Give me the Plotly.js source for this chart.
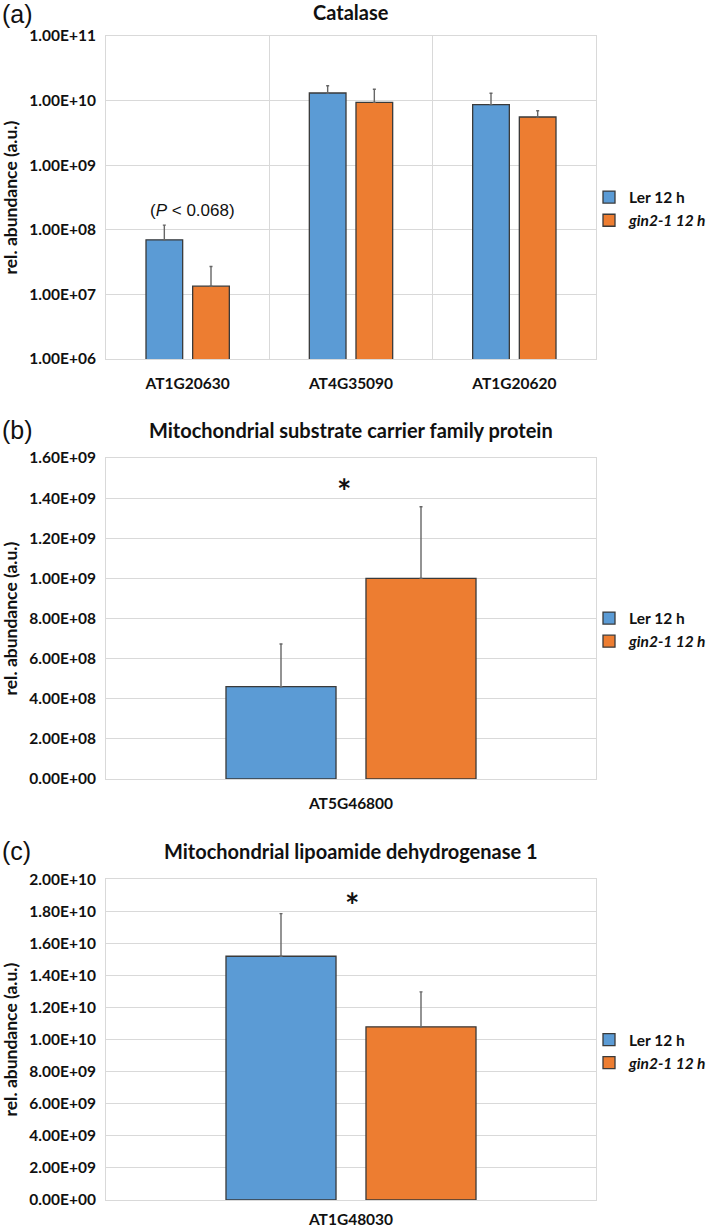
<!DOCTYPE html>
<html>
<head>
<meta charset="utf-8">
<script src="https://cdn.plot.ly/plotly-3.0.1.min.js"></script>
<style>html,body{margin:0;padding:0;background:#fff;}#chart{width:709px;height:1230px;}</style>
</head>
<body>
<div id="chart"></div>
<script>
// ---- data ----
const seriesNames = ['<b>Ler 12 h</b>', '<b><i>gin2-1 12 h</i></b>'];

const catalaseGenes = ['AT1G20630', 'AT4G35090', 'AT1G20620'];
const catalaseLer = [7.0e7, 1.31e10, 8.65e9];
const catalaseLerErr = [4.8e7, 3.9e9, 4.35e9];
const catalaseGin = [1.34e7, 9.4e9, 5.57e9];
const catalaseGinErr = [1.37e7, 5.6e9, 1.41e9];
const catalaseTickVals = [1e6, 1e7, 1e8, 1e9, 1e10, 1e11];
const catalaseTickText = ['1.00E+06', '1.00E+07', '1.00E+08', '1.00E+09', '1.00E+10', '1.00E+11'];

const carrierGenes = ['AT5G46800'];
const carrierLer = [4.6e8];
const carrierLerErr = [2.13e8];
const carrierGin = [1.0e9];
const carrierGinErr = [3.57e8];
const carrierTickVals = [0, 2e8, 4e8, 6e8, 8e8, 1e9, 1.2e9, 1.4e9, 1.6e9];
const carrierTickText = ['0.00E+00', '2.00E+08', '4.00E+08', '6.00E+08', '8.00E+08', '1.00E+09', '1.20E+09', '1.40E+09', '1.60E+09'];

const lipoGenes = ['AT1G48030'];
const lipoLer = [1.52e10];
const lipoLerErr = [2.66e9];
const lipoGin = [1.08e10];
const lipoGinErr = [2.18e9];
const lipoTickVals = [0, 2e9, 4e9, 6e9, 8e9, 1e10, 1.2e10, 1.4e10, 1.6e10, 1.8e10, 2e10];
const lipoTickText = ['0.00E+00', '2.00E+09', '4.00E+09', '6.00E+09', '8.00E+09', '1.00E+10', '1.20E+10', '1.40E+10', '1.60E+10', '1.80E+10', '2.00E+10'];

// ---- styles ----
const W = 709, H = 1230;
const BLUE = '#5B9BD5', ORANGE = '#ED7D31';
const FONT = 'Lato, Carlito, "Open Sans", sans-serif';
const GRID = '#d9d9d9';
const px = v => v / W;
const py = v => 1 - v / H;

function barTrace(x, y, err, name, color, xa, ya, leg) {
  return {
    type: 'bar', x: x, y: y, name: name,
    xaxis: xa, yaxis: ya, legend: leg,
    marker: {color: color, line: {color: '#3a3a3a', width: 1.3}},
    error_y: {type: 'data', array: err, arrayminus: err.map(() => 0), symmetric: false,
              color: '#666666', thickness: 1.4, width: 1.5},
    hoverinfo: 'skip'
  };
}

const traces = [
  barTrace(catalaseGenes, catalaseLer, catalaseLerErr, seriesNames[0], BLUE, 'x', 'y', 'legend'),
  barTrace(catalaseGenes, catalaseGin, catalaseGinErr, seriesNames[1], ORANGE, 'x', 'y', 'legend'),
  barTrace(carrierGenes, carrierLer, carrierLerErr, seriesNames[0], BLUE, 'x2', 'y2', 'legend2'),
  barTrace(carrierGenes, carrierGin, carrierGinErr, seriesNames[1], ORANGE, 'x2', 'y2', 'legend2'),
  barTrace(lipoGenes, lipoLer, lipoLerErr, seriesNames[0], BLUE, 'x3', 'y3', 'legend3'),
  barTrace(lipoGenes, lipoGin, lipoGinErr, seriesNames[1], ORANGE, 'x3', 'y3', 'legend3')
];

function xAxis(anchor, grid, standoff) {
  return {
    domain: [px(106), px(596)], anchor: anchor, type: 'category',
    showgrid: grid, tickson: 'boundaries', gridcolor: GRID, gridwidth: 1,
    showline: true, mirror: true, linecolor: GRID, linewidth: 1,
    ticks: '', ticklabelstandoff: standoff, zeroline: false,
    tickfont: {family: FONT, size: 15.5, color: '#111'},
    tickprefix: '<b>', ticksuffix: '</b>', fixedrange: true
  };
}
function yAxis(anchor, top, bottom, type, range, vals, text) {
  return {
    domain: [py(bottom), py(top)], anchor: anchor, type: type, range: range,
    tickmode: 'array', tickvals: vals, ticktext: text.map(t => '<b>' + t + '</b>'),
    showgrid: true, gridcolor: GRID, gridwidth: 1, zeroline: false,
    showline: true, mirror: true, linecolor: GRID, linewidth: 1,
    ticks: '', ticklabelstandoff: 6,
    tickfont: {family: FONT, size: 15.5, color: '#111'}, fixedrange: true
  };
}

function legendAt(yPix) {
  return {
    x: px(589), xanchor: 'left', y: py(yPix), yanchor: 'middle',
    bgcolor: 'rgba(0,0,0,0)', borderwidth: 0, traceorder: 'normal',
    font: {family: FONT, size: 15.5, color: '#111'}, itemclick: false
  };
}

function ann(text, x, y, size, extra) {
  return Object.assign({
    text: text, xref: 'paper', yref: 'paper', x: px(x), y: py(y),
    xanchor: 'center', yanchor: 'middle', showarrow: false,
    font: {family: FONT, size: size, color: '#111'}
  }, extra || {});
}

const PANEL_FONT = {family: 'Liberation Sans, Arial, sans-serif', size: 25, color: '#111'};
const annotations = [
  ann('(a)', 0, 14, 25, {xanchor: 'left', font: PANEL_FONT}),
  ann('(b)', 0, 430, 25, {xanchor: 'left', font: PANEL_FONT}),
  ann('(c)', 0, 851, 25, {xanchor: 'left', font: PANEL_FONT}),
  ann('<b>Catalase</b>', 351, 12, 20),
  ann('<b>Mitochondrial substrate carrier family protein</b>', 351, 430, 20),
  ann('<b>Mitochondrial lipoamide dehydrogenase 1</b>', 351, 851, 20),
  ann('<b>rel. abundance (a.u.)</b>', 10, 197.5, 17.5, {textangle: -90}),
  ann('<b>rel. abundance (a.u.)</b>', 10, 618.5, 17.5, {textangle: -90}),
  ann('<b>rel. abundance (a.u.)</b>', 10, 1039.5, 17.5, {textangle: -90}),
  ann('(<i>P</i> < 0.068)', 192, 210, 17, {font: {family: '"Liberation Sans Narrow", "Liberation Sans", Arial, sans-serif', size: 17, color: '#111'}}),
  ann('<b>*</b>', 344, 490, 34),
  ann('<b>*</b>', 351.5, 905, 34)
];

const layout = {
  width: W, height: H,
  margin: {l: 0, r: 0, t: 0, b: 0, autoexpand: false},
  paper_bgcolor: '#fff', plot_bgcolor: '#fff',
  barmode: 'group', bargap: 0.4286, bargroupgap: 0.214,
  font: {family: FONT, color: '#111'},
  showlegend: true,
  xaxis: xAxis('y', true, 10),
  yaxis: yAxis('x', 36, 359, 'log', [6, 11], catalaseTickVals, catalaseTickText),
  xaxis2: xAxis('y2', false, 10),
  yaxis2: yAxis('x2', 458, 779, 'linear', [0, 1.6e9], carrierTickVals, carrierTickText),
  xaxis3: xAxis('y3', false, 5),
  yaxis3: yAxis('x3', 879.3, 1200, 'linear', [0, 2e10], lipoTickVals, lipoTickText),
  legend: legendAt(209),
  legend2: legendAt(630),
  legend3: legendAt(1051.5),
  annotations: annotations
};

Plotly.newPlot('chart', traces, layout, {staticPlot: true, displayModeBar: false});
</script>
</body>
</html>
